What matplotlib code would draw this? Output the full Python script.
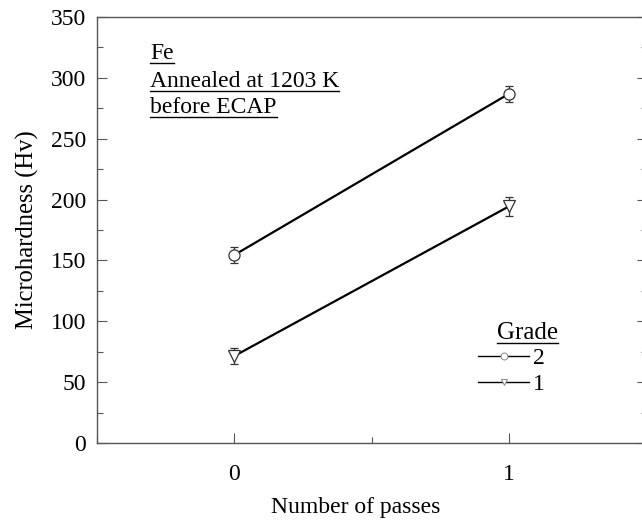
import matplotlib
matplotlib.use("Agg")
import matplotlib.pyplot as plt
from matplotlib.lines import Line2D
from matplotlib.ticker import MultipleLocator

passes = [0, 1]
grade2 = [154.5, 287.0]
grade2_err = [6.5, 6.5]
grade1 = [71.5, 194.5]
grade1_err = [6.5, 8.0]
labels = ["2", "1"]
notes = ["Fe", "Annealed at 1203 K", "before ECAP"]

plt.rcParams['font.family'] = ['Liberation Serif', 'DejaVu Serif']
plt.rcParams['font.size'] = 17

fig = plt.figure(figsize=(6.42, 5.21), dpi=100)
W, H = 642, 521
ax = fig.add_axes([97 / W, (521 - 443) / H, (646.5 - 97) / W, 426 / H])

kw = dict(color='black', lw=1.6, mfc='white', mec='#333333', mew=0.9, ms=8,
          ecolor='#333333', elinewidth=0.9, capsize=3, capthick=0.9)
ax.errorbar(passes, grade2, yerr=grade2_err, marker='o', **kw)
ax.errorbar(passes, grade1, yerr=grade1_err, marker='v', **kw)

ax.set_xlim(-0.5, 1.5)
ax.set_ylim(0, 350)
ax.set_xticks([0, 1])
ax.xaxis.set_minor_locator(MultipleLocator(0.5))
ax.yaxis.set_major_locator(MultipleLocator(50))
ax.yaxis.set_minor_locator(MultipleLocator(25))
ax.tick_params(which='both', direction='in', top=True, right=True, color='#555555', width=0.8)
ax.tick_params(which='major', length=7)
ax.tick_params(which='minor', length=4)
ax.tick_params(axis='x', which='both', top=False)
ax.tick_params(axis='x', pad=15)
ax.tick_params(axis='y', pad=8)
for s in ax.spines.values():
    s.set_color('#555555')
    s.set_linewidth(1.0)

ax.set_xlabel("Number of passes", va='center')
ax.xaxis.set_label_coords(0.47, -64 / 426)
ax.set_ylabel("Microhardness (Hv)", labelpad=8, fontsize=17.7)

texts = []
ys = [0.901, 0.836, 0.775]
for t, y in zip(notes, ys):
    texts.append(ax.text(0.0965, y, t, transform=ax.transAxes, va='baseline', ha='left'))
gt = ax.text(497, H - 339, "Grade", transform=None, va='baseline', ha='left', fontsize=18)
texts.append(gt)

handles = [Line2D([], [], color='black', lw=1.0, marker='o', mfc='white', mec='#888888', ms=5, mew=0.7),
           Line2D([], [], color='black', lw=1.0, marker='v', mfc='white', mec='#888888', ms=5, mew=0.7)]
leg = ax.legend(handles, labels, loc='upper left', bbox_to_anchor=(461 / W, (H - 331) / H),
                bbox_transform=fig.transFigure, frameon=False, handlelength=2.2,
                handletextpad=0.15, labelspacing=0.2, borderpad=0.2)

fig.canvas.draw()
r = fig.canvas.get_renderer()
for t in texts:
    bb = t.get_window_extent(r)
    x0, x1 = bb.x0, bb.x1
    disp = t.get_transform().transform(t.get_position())
    yb = disp[1] - 4
    fig.add_artist(Line2D([x0 / W, x1 / W], [yb / H, yb / H], color='black', lw=1.0,
                          transform=fig.transFigure))

fig.savefig("out.png", dpi=100)
